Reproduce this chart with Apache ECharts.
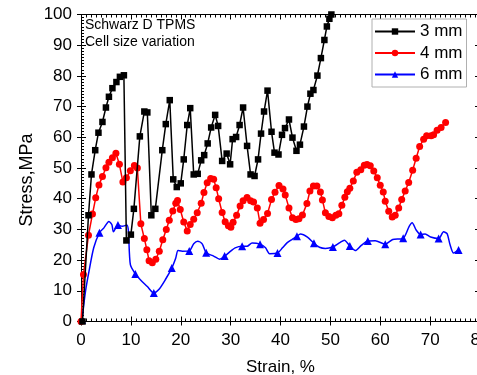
<!DOCTYPE html>
<html>
<head>
<meta charset="utf-8">
<script src="https://cdn.jsdelivr.net/npm/echarts@6/dist/echarts.min.js"></script>
<style>
  html, body { margin: 0; padding: 0; background: #fff; }
  #chart { width: 477px; height: 375px; }
</style>
</head>
<body>
<div id="chart"></div>
<script>
// Compressive stress-strain curves, Schwarz D TPMS lattices of three cell sizes
const seriesNames = ['3 mm', '4 mm', '6 mm'];

const strain3mm = [0.3, 1.5, 2.1, 2.85, 3.5, 4.3, 5.0, 5.6, 6.3, 7.1, 7.8, 8.6, 9.1, 10.0, 10.6, 11.8, 12.7, 13.3, 14.1, 14.9,
  16.3, 17.0, 17.8, 18.5, 19.2, 20.0, 20.6, 21.3, 21.9, 22.6, 23.4, 24.1, 24.7, 25.4, 26.1, 26.9, 27.5, 28.3, 29.2, 29.9,
  30.4, 31.1, 31.8, 32.5, 33.3, 34.0, 34.8, 35.5, 36.1, 36.7, 37.4, 38.2, 38.8, 39.6, 40.3, 40.9, 41.7, 42.4, 43.2, 43.9,
  44.7, 45.4, 46.0, 46.6, 47.4, 48.1, 48.8, 49.3, 49.8, 50.2];
const stress3mm = [0, 34.6, 47.9, 55.8, 61.5, 65, 69.7, 73.2, 76, 78, 79.7, 80.2, 26.4, 28.3, 36.7, 60.3, 68.4, 68.1, 34.6, 36.7,
  55.8, 64.3, 72.1, 46.3, 43.8, 45, 52.8, 64, 69.5, 47.9, 48.1, 52.5, 54.2, 58, 63.2, 67.3, 63.7, 52.3, 54.7, 51.2,
  59.4, 60.1, 64, 69.7, 57.2, 47.9, 47.4, 52.8, 61.2, 68.4, 75.2, 61.8, 55, 54.4, 60.8, 63, 65.8, 59.9, 55.6, 57.6,
  63.5, 70, 74.2, 75.4, 80.1, 85.8, 91.7, 96.1, 98.6, 100];

const strain4mm = [0, 0.5, 1.5, 2.3, 2.95, 3.6, 4.3, 5.0, 5.6, 6.3, 7.0, 7.7, 8.4, 9.1, 9.9, 10.7, 11.3, 12.0, 12.7, 13.2,
  13.65, 14.3, 15.0, 15.7, 16.4, 17.1, 17.7, 18.4, 19.0, 19.35, 19.9, 20.6, 21.3, 21.9, 22.6, 23.3, 24.1, 24.65, 25.3, 26.0,
  26.6, 27.1, 27.6, 28.3, 28.9, 29.55, 30.05, 30.5, 31.2, 31.9, 32.5, 33.3, 34.0, 34.6, 35.35, 35.9, 36.6, 37.4, 38.2, 38.9,
  39.7, 40.5, 40.95, 41.7, 42.4, 43.1, 43.7, 44.4, 45.3, 45.9, 46.6, 47.3, 48.0, 48.4, 49.0, 49.7, 50.4, 51.1, 51.7, 52.3,
  52.9, 53.4, 53.9, 54.6, 55.3, 56.1, 56.8, 57.35, 58.0, 58.7, 59.4, 60.0, 60.6, 61.0, 61.7, 62.4, 63.0, 63.7, 64.3, 65.0,
  65.7, 66.5, 67.2, 67.9, 68.7, 69.3, 70.2, 70.7, 71.4, 72.2, 73.1];
const stress4mm = [0, 15.3, 28.1, 35, 40.3, 44.5, 47.2, 50.1, 51.9, 53.3, 54.8, 51.2, 45.4, 46.8, 49.1, 50.8, 50, 31.8, 27, 23.4,
  19.8, 19.1, 20.3, 22.9, 26.6, 30, 33, 36, 38.5, 39.4, 36.5, 32.4, 29.5, 31.6, 33.3, 35.4, 38.5, 42, 45.2, 46.6,
  46.3, 43.6, 40, 35.5, 32.5, 31.2, 30.7, 32.3, 34.6, 37.6, 39.3, 40.4, 39.3, 38.9, 37, 32, 33.2, 35.2, 39.7, 42.1,
  44.3, 43.2, 41.2, 37, 33.8, 33.2, 33.5, 34.7, 38.4, 42.5, 44.1, 44.1, 42.2, 39.6, 35.4, 34.2, 33.8, 34.6, 35.1, 37.9,
  40.5, 42.3, 43.4, 45.8, 48.6, 49.4, 50.9, 51.1, 50.7, 49, 46.8, 44.4, 42.2, 39.2, 35.9, 34, 34.6, 37, 39.7, 42.5,
  45.3, 49.3, 53.2, 57, 59.4, 60.5, 60.5, 60.8, 62.3, 63.2, 64.8];

const strain6mm = [0.2, 0.9, 1.6, 2.55, 3.7, 4.6, 5.6, 6.2, 6.5, 7.4, 8.25, 9.2, 9.5, 9.9, 10.9, 11.9, 13.3, 14.6, 15.6, 16.9,
  18.2, 19.0, 19.45, 20.3, 21.7, 22.6, 23.4, 24.3, 25.1, 26.6, 27.8, 28.8, 30.0, 30.9, 32.3, 33.3, 34.3, 35.9, 37.0, 37.8,
  39.4, 40.4, 41.3, 42.3, 43.3, 44.0, 45.4, 46.7, 47.8, 49.0, 50.5, 51.9, 52.8, 53.9, 55.0, 56.2, 57.5, 59.0, 61.0, 62.5,
  64.6, 65.8, 66.4, 67.2, 68.1, 69.0, 70.1, 71.7, 72.7, 73.4, 74.0, 74.7, 75.7];
const stress6mm = [0.5, 9.8, 16.3, 24, 28.9, 30.5, 32.6, 31.5, 29.2, 31.4, 31, 31.4, 29.5, 18.5, 15.5, 13.6, 11.4, 9.3, 10.4, 13.6,
  17.4, 20.7, 23.1, 22.9, 23, 25.3, 26.1, 25.3, 22.4, 21.3, 20.3, 21.3, 22.9, 24, 24.5, 24.5, 25.6, 25.2, 24, 22.1,
  22.3, 24, 25.6, 26.7, 27.8, 28.5, 27.5, 25.5, 24.2, 23.8, 24.3, 25.7, 26.5, 24.6, 23.1, 24.8, 26.2, 26.3, 25.2, 26.7,
  27.1, 31, 32.2, 29.8, 28.3, 28.5, 27.5, 27, 29.2, 28.6, 25, 22.3, 23.3];
// points of the 6 mm curve that carry a triangle marker
const markers6mm = [0, 4, 9, 14, 17, 20, 24, 28, 31, 34, 37, 40, 44, 47, 50, 53, 56, 58, 60, 64, 67, 72];

const noteLines = ['Schwarz D TPMS', 'Cell size variation'];
const yTitle = 'Stress,MPa';

const FONT = 'Liberation Sans, Arial, sans-serif';

function pairs(xs, ys) { return xs.map((x, i) => [x, ys[i]]); }

const data6mm = strain6mm.map((x, i) => ({
  value: [x, stress6mm[i]],
  symbol: markers6mm.indexOf(i) >= 0 ? 'triangle' : 'none'
}));

const X_RANGE = { type: 'value', min: 0, max: 80, interval: 10, gridIndex: 0 };
const Y_RANGE = { type: 'value', min: 0, max: 100, interval: 10, gridIndex: 0 };
const BLACK = { color: '#000', width: 1 };

const chart = echarts.init(document.getElementById('chart'), null, { renderer: 'canvas' });
chart.setOption({
  backgroundColor: '#fff',
  animation: false,
  grid: { left: 81, top: 14.5, width: 399, height: 307, containLabel: false, outerBoundsMode: 'none' },
  legend: {
    data: seriesNames,
    orient: 'vertical',
    left: 372, top: 19,
    padding: [4, 4, 4, 2],
    itemWidth: 40, itemHeight: 8, itemGap: 4.5,
    backgroundColor: '#fff',
    borderColor: '#b0b0b0', borderWidth: 1, borderRadius: 0,
    textStyle: { fontFamily: FONT, fontSize: 17, color: '#000' }
  },
  xAxis: [
    Object.assign({}, X_RANGE, {
      position: 'bottom',
      name: 'Strain, %', nameLocation: 'middle', nameGap: 37,
      nameTextStyle: { fontFamily: FONT, fontSize: 17, color: '#000' },
      axisLine: { onZero: false, lineStyle: BLACK },
      axisTick: { inside: true, length: 5, lineStyle: BLACK },
      minorTick: { show: true, splitNumber: 10, length: 3, lineStyle: BLACK },
      axisLabel: { fontFamily: FONT, fontSize: 17, color: '#000', margin: 10, showMaxLabel: true, showMinLabel: true, hideOverlap: false },
      splitLine: { show: false }
    }),
    Object.assign({}, X_RANGE, {
      position: 'bottom',
      axisLine: { show: false },
      axisTick: { inside: false, length: 4, lineStyle: BLACK },
      axisLabel: { show: false }, splitLine: { show: false }
    }),
    Object.assign({}, X_RANGE, {
      position: 'top',
      axisLine: { onZero: false, lineStyle: BLACK },
      axisTick: { inside: true, length: 5, lineStyle: BLACK },
      minorTick: { show: true, splitNumber: 10, length: 3, lineStyle: BLACK },
      axisLabel: { show: false }, splitLine: { show: false }
    })
  ],
  yAxis: [
    Object.assign({}, Y_RANGE, {
      position: 'left',
      axisLine: { onZero: false, lineStyle: BLACK },
      axisTick: { inside: true, length: 5, lineStyle: BLACK },
      minorTick: { show: true, splitNumber: 10, length: 3, lineStyle: BLACK },
      axisLabel: { fontFamily: FONT, fontSize: 17, color: '#000', margin: 9 },
      splitLine: { show: false }
    }),
    Object.assign({}, Y_RANGE, {
      position: 'left',
      axisLine: { show: false },
      axisTick: { inside: false, length: 4, lineStyle: BLACK },
      axisLabel: { show: false }, splitLine: { show: false }
    }),
    Object.assign({}, Y_RANGE, {
      position: 'right',
      axisLine: { onZero: false, lineStyle: BLACK },
      axisTick: { inside: true, length: 5, lineStyle: BLACK },
      minorTick: { show: true, splitNumber: 10, length: 3, lineStyle: BLACK },
      axisLabel: { show: false }, splitLine: { show: false }
    })
  ],
  graphic: noteLines.map((t, i) => ({
    type: 'text', left: 85, top: 18 + i * 17,
    style: { text: t, font: '14px ' + FONT, fill: '#000' },
    z: 10
  })).concat([{
    // vertical axis title, rotated to read bottom-up
    type: 'text', x: 27, y: 180, rotation: Math.PI / 2,
    style: { text: yTitle, font: '18px ' + FONT, fill: '#000', align: 'center', verticalAlign: 'middle' },
    z: 10
  }]),
  series: [
    {
      name: seriesNames[0], type: 'line', data: pairs(strain3mm, stress3mm),
      symbol: 'rect', symbolSize: 6.5, showAllSymbol: true,
      lineStyle: { color: '#000', width: 1.5 }, itemStyle: { color: '#000' },
      clip: false, z: 3
    },
    {
      name: seriesNames[1], type: 'line', data: pairs(strain4mm, stress4mm),
      symbol: 'circle', symbolSize: 7, showAllSymbol: true,
      lineStyle: { color: '#ff0000', width: 1.5 }, itemStyle: { color: '#ff0000' },
      z: 2
    },
    {
      name: seriesNames[2], type: 'line', data: data6mm,
      symbol: 'triangle', symbolSize: 8, showAllSymbol: true, smooth: 0.25,
      lineStyle: { color: '#0000ff', width: 1.5 }, itemStyle: { color: '#0000ff' },
      z: 1
    }
  ]
});
</script>
</body>
</html>
